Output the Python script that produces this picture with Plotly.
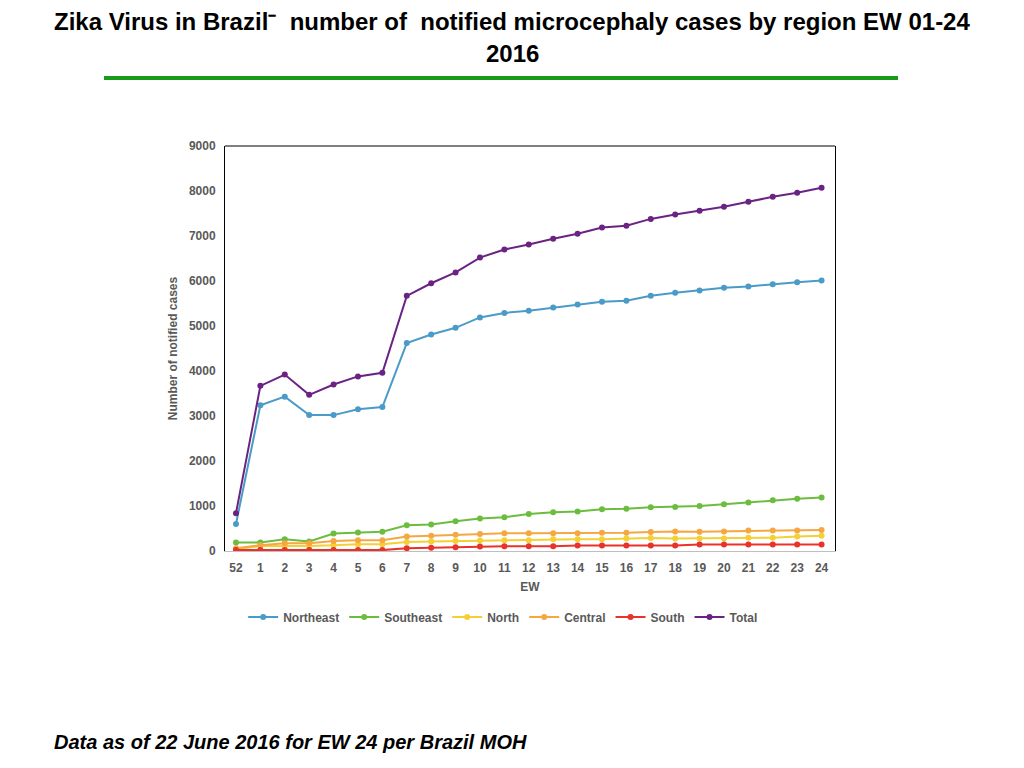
import plotly.graph_objects as go

# epidemiological weeks (52 = last week of 2015)
weeks = ["52"] + [str(w) for w in range(1, 25)]

northeast = [600, 3240, 3430, 3020, 3020, 3150, 3200, 4620, 4810, 4960, 5190, 5290, 5340,
             5410, 5480, 5540, 5560, 5670, 5740, 5790, 5850, 5880, 5930, 5970, 6010]
southeast = [190, 190, 260, 210, 390, 410, 430, 570, 590, 660, 720, 750, 820,
             860, 880, 930, 940, 970, 980, 1000, 1040, 1080, 1130, 1160, 1190]
north = [40, 110, 110, 110, 130, 150, 150, 200, 210, 220, 235, 240, 240,
         260, 260, 260, 280, 290, 280, 280, 280, 295, 295, 320, 340]
central = [60, 130, 170, 170, 220, 240, 240, 320, 340, 360, 380, 395, 395,
           395, 395, 405, 405, 420, 435, 430, 435, 455, 455, 455, 465]
south = [20, 20, 20, 20, 20, 20, 20, 60, 75, 85, 100, 105, 105,
         105, 125, 125, 125, 125, 125, 145, 145, 145, 145, 145, 145]
total = [840, 3670, 3920, 3470, 3700, 3880, 3960, 5670, 5950, 6190, 6520, 6700, 6810,
         6940, 7050, 7190, 7230, 7380, 7480, 7560, 7650, 7760, 7870, 7960, 8070]

series = [
    ("Northeast", northeast, "#4b9bc8"),
    ("Southeast", southeast, "#6cbd3e"),
    ("North", north, "#f3d035"),
    ("Central", central, "#f5a742"),
    ("South", south, "#e8322b"),
    ("Total", total, "#6b2383"),
]

gray = "#595959"
font_main = "Liberation Sans"
axis_font = dict(family=font_main, size=12, color=gray, weight="bold")

fig = go.Figure()
for name, vals, color in series:
    fig.add_trace(go.Scatter(x=weeks, y=vals, mode="lines+markers", name=name,
                             line=dict(color=color, width=2),
                             marker=dict(color=color, size=6)))

# page body adds 8px, so margins are 8px smaller than the target positions
fig.update_layout(
    width=1024, height=768,
    margin=dict(l=217, r=197, t=138, b=225),
    paper_bgcolor="white", plot_bgcolor="white",
    showlegend=True,
    legend=dict(orientation="h", x=0.456, xanchor="center", y=-0.163, yanchor="middle",
                font=axis_font, itemwidth=30, tracegroupgap=0),
    font=dict(family=font_main),
)

fig.update_xaxes(type="category", range=[-0.45, 24.55],
                 showline=True, linecolor="#bfbfbf", linewidth=1,
                 showgrid=False, zeroline=False,
                 ticks="outside", ticklen=6, tickcolor="rgba(0,0,0,0)",
                 tickfont=axis_font,
                 title=dict(text="EW", standoff=8, font=axis_font))
fig.update_yaxes(range=[0, 9000], dtick=1000,
                 showline=True, linecolor="black", linewidth=1, mirror=True,
                 showgrid=False, zeroline=False,
                 ticks="outside", ticklen=6, tickcolor="rgba(0,0,0,0)",
                 tickfont=axis_font,
                 title=dict(text="Number of notified cases", standoff=8, font=axis_font))

# top border of plot area
fig.add_shape(type="line", xref="paper", yref="paper", x0=0, x1=1, y0=1, y1=1,
              line=dict(color="black", width=1))

# title (two lines) and green rule
title_font = dict(family=font_main, size=24, color="black", weight="bold")
fig.add_annotation(text="Zika Virus in Brazil\u207b  number of  notified microcephaly cases by region EW 01-24",
                   xref="paper", yref="paper", x=(512 - 225) / 610, y=(551 - 22) / 405,
                   xanchor="center", yanchor="middle", showarrow=False, font=title_font)
fig.add_annotation(text="2016",
                   xref="paper", yref="paper", x=(512 - 225) / 610, y=(551 - 54) / 405,
                   xanchor="center", yanchor="middle", showarrow=False, font=title_font)
fig.add_shape(type="line", xref="paper", yref="paper",
              x0=(104 - 225) / 610, x1=(898 - 225) / 610,
              y0=(551 - 78) / 405, y1=(551 - 78) / 405,
              line=dict(color="#1a9a1a", width=4))

fig.add_annotation(text="<i>Data as of 22 June 2016 for EW 24 per Brazil MOH</i>",
                   xref="paper", yref="paper", x=(52 - 225) / 610, xanchor="left",
                   y=(551 - 742) / 405, yanchor="middle", showarrow=False,
                   font=dict(family=font_main, size=20, color="black", weight="bold"))

fig.write_html("out.html")
